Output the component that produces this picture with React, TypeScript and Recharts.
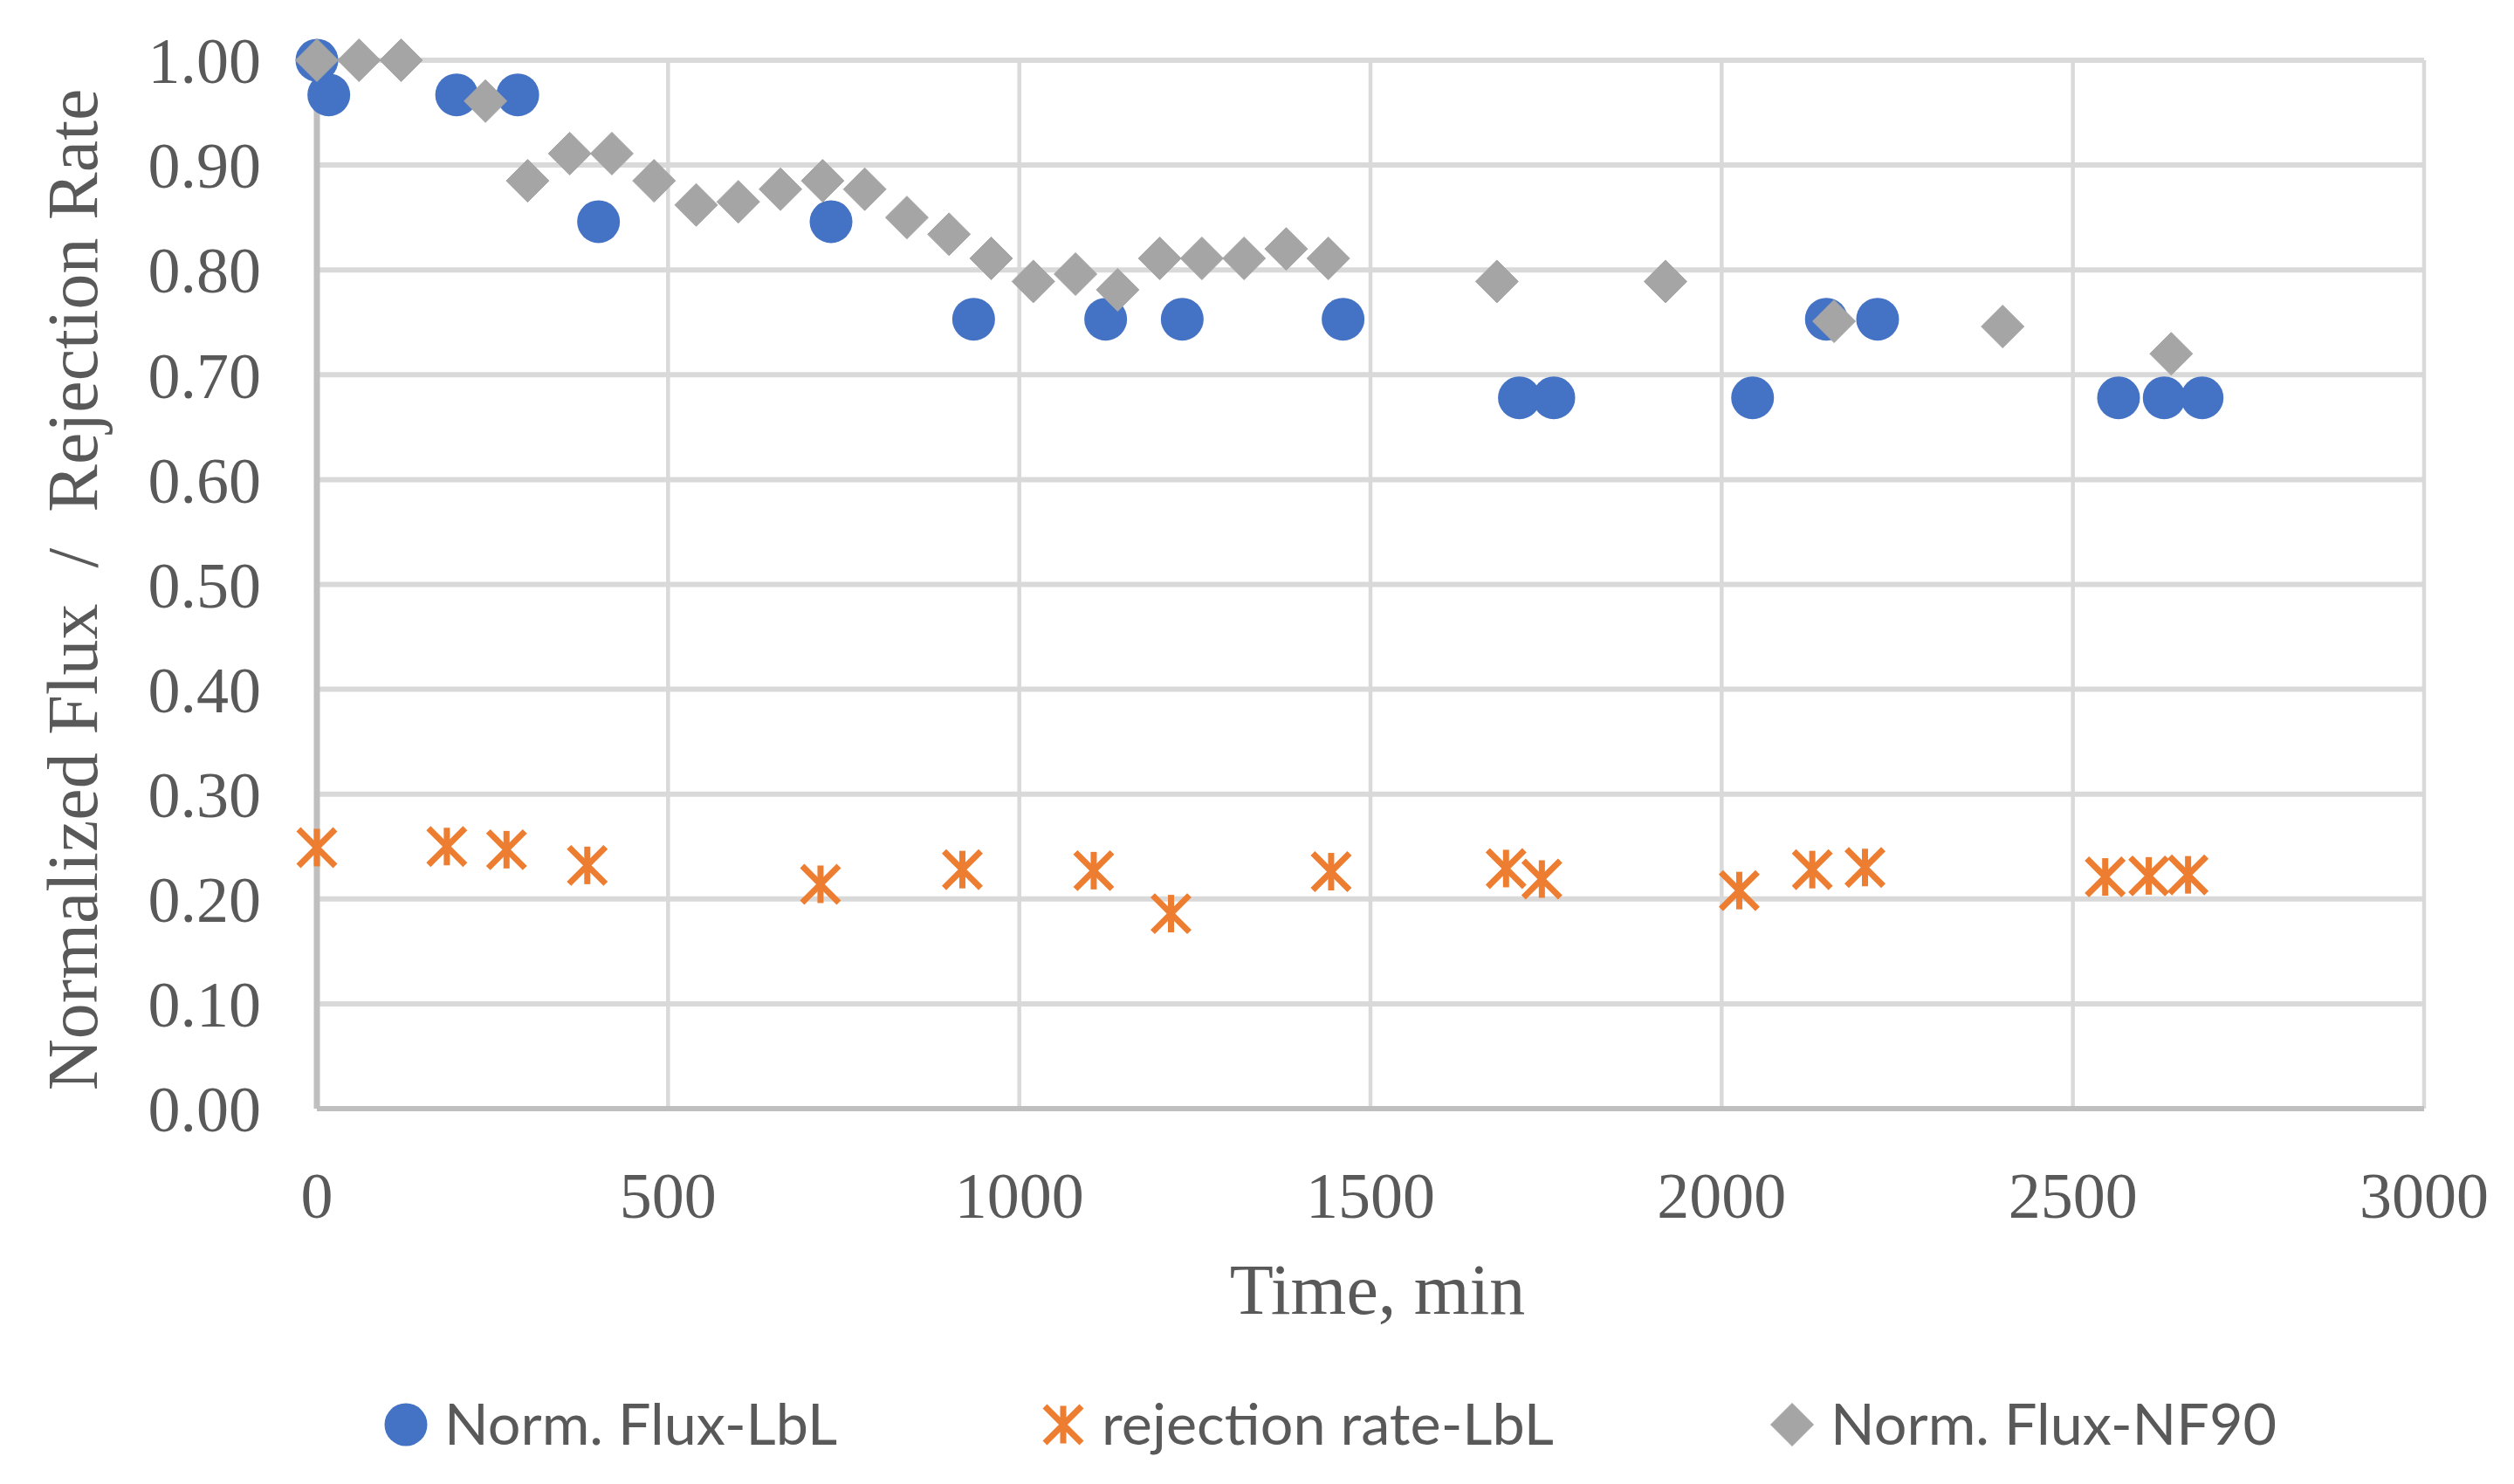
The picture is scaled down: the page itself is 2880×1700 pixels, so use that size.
import {
  CartesianGrid,
  Label,
  Scatter,
  ScatterChart,
  XAxis,
  YAxis,
} from 'recharts';

// time (min) and normalized flux, LbL membrane
const fluxLbLTime = [0, 17, 199, 286, 401, 732, 935, 1123, 1232, 1461, 1712, 1761, 2044, 2149, 2222, 2565, 2630, 2684];
const fluxLbLValue = [1.0, 0.967, 0.967, 0.967, 0.846, 0.846, 0.753, 0.753, 0.753, 0.753, 0.678, 0.678, 0.678, 0.753, 0.753, 0.678, 0.678, 0.678];

// rejection rate, LbL membrane
const rejectionTime = [0, 185, 270, 385, 717, 919, 1106, 1216, 1444, 1693, 1744, 2025, 2129, 2204, 2546, 2608, 2664];
const rejectionValue = [0.249, 0.25, 0.247, 0.232, 0.214, 0.228, 0.227, 0.186, 0.226, 0.229, 0.219, 0.208, 0.228, 0.23, 0.221, 0.222, 0.223];

// normalized flux, NF90
const nf90Time = [0, 60, 120, 240, 300, 360, 420, 480, 540, 600, 660, 720, 780, 840, 900, 960, 1020, 1080, 1140, 1200, 1260, 1320, 1380, 1440, 1680, 1920, 2160, 2400, 2640];
const nf90Value = [1.0, 1.0, 1.0, 0.961, 0.885, 0.911, 0.911, 0.885, 0.862, 0.865, 0.877, 0.885, 0.877, 0.85, 0.834, 0.811, 0.789, 0.796, 0.781, 0.811, 0.811, 0.811, 0.82, 0.811, 0.789, 0.789, 0.751, 0.746, 0.72];

const xTicks = [0, 500, 1000, 1500, 2000, 2500, 3000];
const yTicks = [0, 0.1, 0.2, 0.3, 0.4, 0.5, 0.6, 0.7, 0.8, 0.9, 1.0];

const legendNames = ['Norm. Flux-LbL', 'rejection rate-LbL', 'Norm. Flux-NF90'];

const BLUE = '#4472C4';
const ORANGE = '#ED7D31';
const GRAY = '#A5A5A5';
const TEXT = '#595959';
const SERIF = "'Liberation Serif', 'Times New Roman', serif";
const SANS = "Lato, 'Open Sans', sans-serif";

const toPoints = (xs: number[], ys: number[]) => xs.map((t, i) => ({ t, v: ys[i] }));

const fluxLbL = toPoints(fluxLbLTime, fluxLbLValue);
const rejection = toPoints(rejectionTime, rejectionValue);
const nf90 = toPoints(nf90Time, nf90Value);

function Dot({ cx, cy }: any) {
  return <circle cx={cx} cy={cy} r={24.5} fill={BLUE} />;
}

function Star({ cx, cy }: any) {
  const s = 21;
  return (
    <g stroke={ORANGE} fill="none">
      <path d={`M${cx - s},${cy - s}L${cx + s},${cy + s}M${cx + s},${cy - s}L${cx - s},${cy + s}`} strokeWidth={7} />
      <path d={`M${cx},${cy - 21.5}L${cx},${cy + 21.5}`} strokeWidth={7} />
    </g>
  );
}

function Diamond({ cx, cy }: any) {
  const s = 24.5;
  return (
    <path
      d={`M${cx},${cy - s}L${cx + s},${cy}L${cx},${cy + s}L${cx - s},${cy}Z`}
      fill={GRAY}
      stroke={GRAY}
      strokeWidth={1}
      strokeLinejoin="round"
    />
  );
}

function LegendItem({ x, name, icon }: { x: number; name: string; icon: string }) {
  const cy = 1632;
  return (
    <g>
      {icon === 'dot' && <Dot cx={x} cy={cy} />}
      {icon === 'star' && <Star cx={x} cy={cy} />}
      {icon === 'diamond' && <Diamond cx={x} cy={cy} />}
      <text x={x + 44} y={1655} fontFamily={SANS} fontSize={66.5} fill={TEXT}>
        {name}
      </text>
    </g>
  );
}

export default function App() {
  return (
    <div style={{ position: 'absolute', left: 0, top: 0, width: 2880, height: 1700, background: '#fff' }}>
      <ScatterChart width={2880} height={1700} margin={{ top: 69, right: 103, bottom: 310, left: 0 }}>
        <CartesianGrid vertical={false} stroke="#D9D9D9" strokeWidth={6} />
        <CartesianGrid horizontal={false} stroke="#D9D9D9" strokeWidth={4.5} />
        <XAxis
          type="number"
          dataKey="t"
          domain={[0, 3000]}
          ticks={xTicks}
          height={120}
          tickLine={false}
          tickMargin={66}
          axisLine={{ stroke: '#BFBFBF', strokeWidth: 6 }}
          tick={{ fontFamily: SERIF, fontSize: 74, fill: TEXT }}
        >
          <Label
            content={({ viewBox }: any) => (
              <text
                x={viewBox.x + viewBox.width / 2 + 8}
                y={viewBox.y + 235}
                textAnchor="middle"
                fontFamily={SERIF}
                fontSize={82}
                fill={TEXT}
              >
                Time, min
              </text>
            )}
          />
        </XAxis>
        <YAxis
          type="number"
          dataKey="v"
          domain={[0, 1]}
          ticks={yTicks}
          width={363}
          tickLine={false}
          tickMargin={58}
          tickFormatter={(v: number) => v.toFixed(2)}
          axisLine={{ stroke: '#BFBFBF', strokeWidth: 7 }}
          tick={{ fontFamily: SERIF, fontSize: 74, fill: TEXT }}
        >
          <Label
            content={({ viewBox }: any) => {
              const cx = 83;
              const cy = viewBox.y + viewBox.height / 2 + 6;
              return (
                <text
                  x={cx}
                  y={cy}
                  transform={`rotate(-90 ${cx} ${cy})`}
                  textAnchor="middle"
                  dominantBaseline="central"
                  fontFamily={SERIF}
                  fontSize={82}
                  fill={TEXT}
                  style={{ whiteSpace: 'pre' }}
                >
                  {'Normalized Flux  /  Rejection Rate'}
                </text>
              );
            }}
          />
        </YAxis>
        <Scatter name={legendNames[0]} data={fluxLbL} shape={Dot} isAnimationActive={false} />
        <Scatter name={legendNames[1]} data={rejection} shape={Star} isAnimationActive={false} />
        <Scatter name={legendNames[2]} data={nf90} shape={Diamond} isAnimationActive={false} />
      </ScatterChart>
      <svg width={2880} height={1700} style={{ position: 'absolute', left: 0, top: 0, pointerEvents: 'none' }}>
        <LegendItem x={465} name={legendNames[0]} icon="dot" />
        <LegendItem x={1218} name={legendNames[1]} icon="star" />
        <LegendItem x={2053} name={legendNames[2]} icon="diamond" />
      </svg>
    </div>
  );
}
